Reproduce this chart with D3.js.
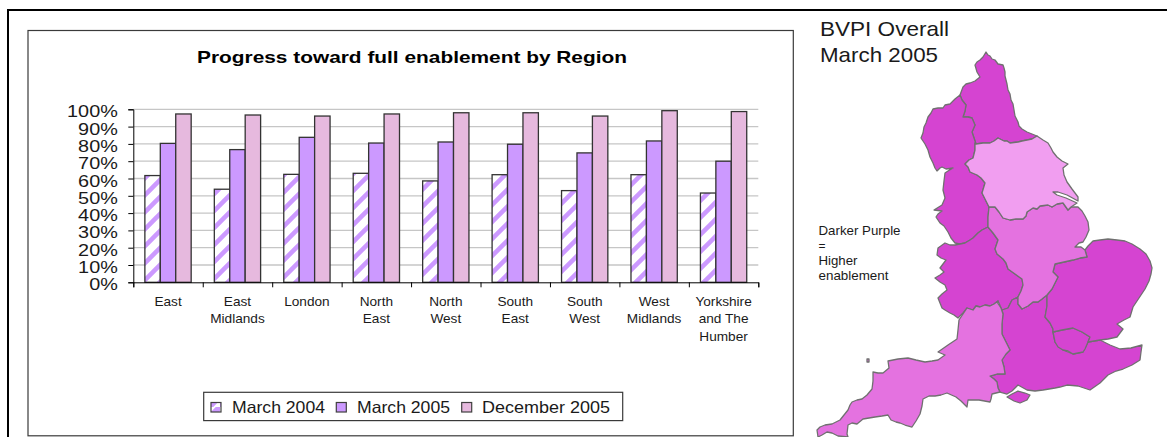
<!DOCTYPE html>
<html><head><meta charset="utf-8">
<script src="https://cdn.jsdelivr.net/npm/d3@7/dist/d3.min.js"></script>
<style>html,body{margin:0;padding:0;background:#fff}svg{display:block}text{font-family:"Liberation Sans",Arial,sans-serif;fill:#1a1a1a}</style>
</head><body><div id="c"></div>
<script>
const regions=["East","East Midlands","London","North East","North West","South East","South West","West Midlands","Yorkshire and The Humber"];
const regionLines=[["East"],["East","Midlands"],["London"],["North","East"],["North","West"],["South","East"],["South","West"],["West","Midlands"],["Yorkshire","and The","Humber"]];
const seriesNames=["March 2004","March 2005","December 2005"];
const march2004=[61.7,53.8,62.4,63,58.6,62.2,53,62.2,51.6];
const march2005=[80.3,76.7,83.8,80.5,81.1,79.8,74.8,81.7,70];
const december2005=[97.3,96.7,96.1,97.3,98,98,96.1,99.2,98.7];
const yTicks=[0,10,20,30,40,50,60,70,80,90,100];

// Map outlines, in map units
const mapNorthEast=[[986,52],[988,55],[990,56],[992,59],[995,60],[998,64],[1003,65],[1004,68],[1005,72],[1005,76],[1006,80],[1007,84],[1008,90],[1010,94],[1011,100],[1013,104],[1014,110],[1015,116],[1018,122],[1019,126],[1022,129],[1027,132],[1032,134],[1037,136],[1032,139],[1027,140],[1022,141],[1018,142],[1010,143],[1007,141],[1004,141],[998,138],[994,141],[990,143],[983,143],[976,144],[974,138],[972,132],[975,125],[972,118],[968,117],[963,117],[965,111],[966,105],[962,100],[960,95],[963,87],[966,84],[970,83],[975,81],[980,77],[977,72],[975,65],[977,62],[980,60],[983,57]];
const mapNorthWest=[[960,95],[955,99],[950,104],[945,105],[943,108],[938,108],[933,109],[931,113],[928,117],[926,123],[924,127],[923,133],[921,138],[925,144],[928,150],[930,157],[933,163],[935,168],[937,171],[940,168],[942,167],[946,169],[953,168],[948,171],[945,173],[944,181],[943,190],[945,198],[942,205],[934,210],[942,211],[938,214],[936,217],[940,223],[944,226],[948,232],[951,238],[955,243],[960,244],[965,243],[970,240],[973,238],[978,233],[982,230],[988,227],[988,217],[989,207],[988,205],[985,199],[982,193],[985,183],[981,178],[977,175],[970,172],[968,167],[965,164],[969,160],[973,158],[975,150],[975,143],[976,144],[974,138],[972,132],[975,125],[972,118],[968,117],[963,117],[965,111],[966,105],[962,100]];
const mapYorkshire=[[976,144],[983,143],[990,143],[994,141],[998,138],[1004,141],[1007,141],[1010,143],[1018,142],[1022,141],[1027,140],[1032,139],[1037,136],[1043,140],[1048,143],[1051,148],[1053,152],[1057,157],[1062,161],[1068,164],[1063,168],[1064,175],[1067,182],[1072,189],[1078,197],[1078,201],[1067,195],[1058,192],[1053,192],[1057,195],[1066,198],[1077,203],[1071,207],[1068,210],[1063,203],[1057,204],[1052,207],[1048,205],[1040,206],[1037,209],[1033,208],[1027,212],[1026,216],[1023,219],[1016,219],[1010,220],[1003,218],[999,212],[995,207],[989,207],[988,205],[985,199],[982,193],[985,183],[981,178],[977,175],[970,172],[968,167],[965,164],[969,160],[973,158],[975,150],[975,143]];
const mapEastMidlands=[[989,207],[995,207],[999,212],[1003,218],[1010,220],[1016,219],[1023,219],[1026,216],[1027,212],[1033,208],[1037,209],[1040,206],[1048,205],[1052,207],[1057,204],[1063,203],[1068,210],[1071,207],[1078,207],[1082,211],[1085,216],[1088,222],[1089,230],[1086,237],[1083,242],[1079,243],[1075,247],[1081,247],[1085,250],[1087,257],[1080,258],[1073,260],[1064,262],[1055,264],[1053,272],[1058,277],[1055,283],[1052,289],[1047,295],[1042,299],[1038,302],[1033,302],[1028,306],[1022,309],[1018,304],[1018,297],[1021,291],[1023,285],[1022,279],[1015,274],[1008,269],[1006,263],[1003,259],[997,254],[995,249],[998,240],[993,233],[988,227],[988,217]];
const mapWestMidlands=[[988,227],[993,233],[998,240],[995,249],[997,254],[1003,259],[1006,263],[1008,269],[1015,274],[1022,279],[1023,285],[1021,291],[1018,297],[1012,300],[1008,308],[1002,310],[998,301],[994,304],[990,306],[985,305],[980,307],[976,306],[973,310],[967,308],[963,313],[958,318],[954,315],[950,313],[945,310],[942,308],[940,303],[938,298],[942,294],[947,290],[945,285],[940,282],[935,278],[940,275],[944,272],[940,268],[943,264],[946,260],[941,258],[937,255],[938,248],[945,243],[950,245],[955,245],[960,244],[965,243],[970,240],[973,238],[978,233],[982,230]];
const mapSouthWest=[[997,302],[1001,308],[1003,314],[1002,324],[1002,334],[1006,342],[1010,350],[1006,354],[1002,360],[1004,367],[1005,374],[997,374],[990,376],[994,379],[997,382],[998,388],[1000,392],[992,394],[991,399],[990,402],[979,400],[968,400],[967,407],[961,401],[956,397],[947,393],[941,395],[935,396],[929,396],[923,399],[922,406],[920,414],[916,421],[912,427],[905,425],[900,423],[896,422],[891,420],[888,415],[882,416],[875,417],[869,418],[863,419],[857,424],[852,423],[848,425],[847,434],[848,437],[838,436],[832,433],[827,432],[822,435],[818,437],[817,430],[820,427],[825,425],[832,424],[840,420],[844,415],[848,410],[850,405],[852,402],[857,400],[862,399],[867,395],[872,389],[873,381],[873,372],[878,373],[883,373],[889,368],[888,361],[898,359],[908,358],[916,360],[925,362],[932,361],[938,360],[945,355],[938,352],[948,345],[957,339],[958,330],[959,320],[963,314],[967,308],[973,310],[976,306],[980,307],[985,305],[990,306],[994,304],[998,301]];
const mapSouthEast=[[1003,314],[1002,310],[1008,308],[1012,300],[1018,297],[1018,304],[1022,309],[1028,306],[1033,302],[1038,302],[1042,299],[1047,295],[1047,306],[1045,317],[1050,323],[1053,329],[1053,332],[1055,342],[1063,350],[1073,354],[1083,352],[1088,342],[1094,341],[1100,340],[1110,345],[1120,349],[1131,348],[1142,345],[1141,352],[1140,360],[1132,365],[1123,369],[1116,371],[1108,375],[1100,383],[1090,390],[1084,388],[1078,386],[1067,385],[1060,387],[1055,388],[1049,389],[1043,390],[1035,391],[1027,390],[1018,385],[1012,391],[1007,394],[1000,392],[998,388],[997,382],[994,379],[990,376],[997,374],[1005,374],[1004,367],[1002,360],[1006,354],[1010,350],[1006,342],[1002,334],[1002,324]];
const mapLondon=[[1053,332],[1062,330],[1073,328],[1082,332],[1090,337],[1088,342],[1085,349],[1083,352],[1078,353],[1073,354],[1068,351],[1063,350],[1058,347],[1055,342]];
const mapEast=[[1055,264],[1064,262],[1073,260],[1080,258],[1087,257],[1085,250],[1088,246],[1093,241],[1100,240],[1108,239],[1117,240],[1125,241],[1132,244],[1140,249],[1146,254],[1150,261],[1152,268],[1151,274],[1149,281],[1145,289],[1139,298],[1133,307],[1130,317],[1124,320],[1117,324],[1123,329],[1120,333],[1117,337],[1108,339],[1100,340],[1094,341],[1088,342],[1090,337],[1082,332],[1073,328],[1062,330],[1053,332],[1053,329],[1050,323],[1045,317],[1047,306],[1047,295],[1052,289],[1055,283],[1058,277],[1053,272]];
const mapWight=[[1007,397],[1012,394],[1018,391],[1025,393],[1030,395],[1027,400],[1020,403],[1014,401]];
const mapDot=[[867,359],[869,359],[869,362],[867,362]];
const mapShades=[
 [mapNorthEast,"#d544d1"],[mapNorthWest,"#d544d1"],[mapWestMidlands,"#d544d1"],
 [mapSouthEast,"#d544d1"],[mapLondon,"#d544d1"],[mapEast,"#d544d1"],
 [mapSouthWest,"#e472e0"],[mapEastMidlands,"#e472e0"],[mapWight,"#d544d1"],[mapDot,"#e472e0"],
 [mapYorkshire,"#f19ef0"]];

const W=1167,H=437;
const svg=d3.select("#c").append("svg").attr("width",W).attr("height",H);
const defs=svg.append("defs");
const pat=defs.append("pattern").attr("id","hatch").attr("patternUnits","userSpaceOnUse").attr("width",17).attr("height",17);
pat.append("rect").attr("width",17).attr("height",17).attr("fill","#fff");
pat.append("path").attr("d","M-4,4L4,-4M-4,21L21,-4M13,21L21,13").attr("stroke","#cc99ff").attr("stroke-width",4.5);
const pat2=defs.append("pattern").attr("id","hatch2").attr("patternUnits","userSpaceOnUse").attr("width",11).attr("height",11);
pat2.append("rect").attr("width",11).attr("height",11).attr("fill","#fff");
pat2.append("path").attr("d","M-3,14L14,-3").attr("stroke","#cc99ff").attr("stroke-width",6);

// frames
svg.append("path").attr("d",`M8,${H}V10H${W}`).attr("fill","none").attr("stroke","#000").attr("stroke-width",2);
svg.append("rect").attr("x",28).attr("y",30.5).attr("width",765.3).attr("height",405.3).attr("fill","#fff").attr("stroke","#3a3a3a").attr("stroke-width",1.2);

const x0=d3.scaleBand().domain(regions).range([133.3,758.3]).paddingInner(1/3).paddingOuter(1/6);
const x1=d3.scaleBand().domain(seriesNames).range([0,x0.bandwidth()]);
const y=d3.scaleLinear().domain([0,100]).range([282.3,109.3]);
const fills=["url(#hatch)","#cc99ff","#e6b9de"];
const series=[march2004,march2005,december2005];

const plot=svg.append("g");
plot.append("g").selectAll("line").data(yTicks.slice(1)).join("line")
 .attr("x1",133.3).attr("x2",758.3).attr("y1",d=>y(d)).attr("y2",d=>y(d))
 .attr("stroke","#c6c6c6").attr("stroke-width",1.3);

series.forEach((vals,s)=>{
 plot.append("g").selectAll("rect").data(vals).join("rect")
  .attr("x",(d,i)=>x0(regions[i])+x1(seriesNames[s]))
  .attr("width",x1.bandwidth())
  .attr("y",d=>y(d)).attr("height",d=>y(0)-y(d))
  .attr("fill",fills[s]).attr("stroke","#333").attr("stroke-width",1.3);
});

const yAxis=d3.axisLeft(y).tickValues(yTicks).tickFormat(d=>d+"%").tickSize(5).tickPadding(0);
const ya=svg.append("g").attr("transform","translate(133.3,0)").call(yAxis);
ya.selectAll("path,line").attr("stroke","#000").attr("stroke-width",1);
ya.selectAll("text").attr("font-size",16).attr("fill","#1a1a1a").attr("dy",null)
 .attr("x",null).attr("transform","translate(-15.5,7.5) scale(1.24,1)");

const xAxis=d3.axisBottom(d3.scaleLinear().domain([0,regions.length]).range([133.3,758.3]))
 .ticks(regions.length).tickFormat("").tickSize(5);
const xa=svg.append("g").attr("transform","translate(0,282.3)").call(xAxis);
xa.selectAll("path,line").attr("stroke","#000").attr("stroke-width",1);

regionLines.forEach((lines,i)=>{
 const cx=x0(regions[i])+x0.bandwidth()/2;
 lines.forEach((t,j)=>svg.append("text").text(t).attr("text-anchor","middle")
  .attr("font-size",13).attr("transform",`translate(${cx},${306+j*17.4}) scale(1.05,1)`));
});

function fit(sel,w){return sel.attr("textLength",w).attr("lengthAdjust","spacingAndGlyphs");}
fit(svg.append("text").text("Progress toward full enablement by Region").attr("x",197).attr("y",63)
 .attr("font-size",16.5).attr("font-weight","bold").style("fill","#000"),430);

// legend
svg.append("rect").attr("x",203.7).attr("y",392.3).attr("width",419).attr("height",28.3).attr("fill","#fff").attr("stroke","#3a3a3a").attr("stroke-width",1.2);
const legX=[211,336.3,461.7], legTextX=[232,357,482], legW=[93,93,128];
seriesNames.forEach((n,i)=>{
 svg.append("rect").attr("x",legX[i]).attr("y",402.5).attr("width",10).attr("height",9.5)
  .attr("fill",i===0?"url(#hatch2)":fills[i]).attr("stroke","#404040").attr("stroke-width",1.2);
 fit(svg.append("text").text(n).attr("x",legTextX[i]).attr("y",412.5).attr("font-size",16.5),legW[i]);
});

// map
const mx=d3.scaleLinear().domain([800,1167]).range([800,1167]);
const my=d3.scaleLinear().domain([0,437]).range([0,437]);
const line=d3.line().x(d=>mx(d[0])).y(d=>my(d[1])).curve(d3.curveLinearClosed);
svg.append("g").selectAll("path").data(mapShades).join("path")
 .attr("d",d=>line(d[0])).attr("fill",d=>d[1]).attr("stroke","#707070").attr("stroke-width",1.3).attr("stroke-linejoin","round");

[["BVPI Overall",35.7,129],["March 2005",61.7,118]].forEach(d=>
 fit(svg.append("text").text(d[0]).attr("x",820).attr("y",d[1]).attr("font-size",21),d[2]));
[["Darker Purple",235.3,82],["=",250.3,7],["Higher",264.7,39],["enablement",279.7,70]].forEach(d=>
 fit(svg.append("text").text(d[0]).attr("x",818.5).attr("y",d[1]).attr("font-size",13),d[2]));
</script></body></html>
